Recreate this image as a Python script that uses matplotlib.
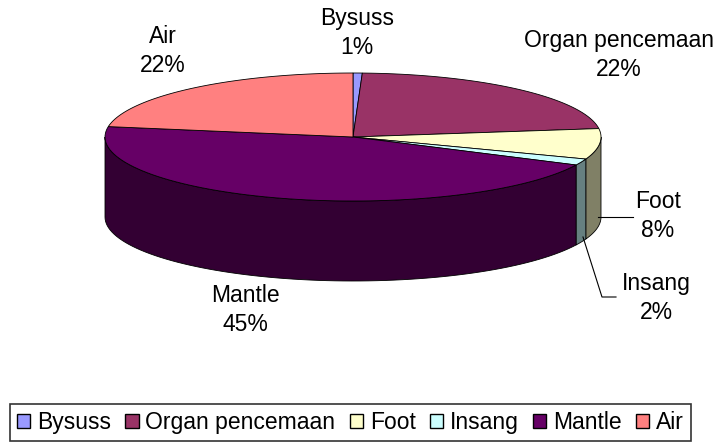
import numpy as np
import matplotlib.pyplot as plt
from matplotlib.patches import Polygon, Patch
from matplotlib.colors import to_rgb

plt.rcParams['font.family'] = ['Liberation Sans', 'DejaVu Sans']

labels = ['Bysuss', 'Organ pencemaan', 'Foot', 'Insang', 'Mantle', 'Air']
values = [0.6, 22.3, 7.7, 1.6, 45.4, 22.4]
colors = ['#9999FF', '#993366', '#FFFFCC', '#CCFFFF', '#660066', '#FF8080']

# label positions (pixel coords) for each slice
label_pos = [(357, 33), (619, 55), (658, 216), (656, 298), (245, 310), (163, 51)]

fig = plt.figure(figsize=(7.16, 4.47), dpi=100)
ax = fig.add_axes([0, 0, 1, 1])
ax.set_xlim(0, 716)
ax.set_ylim(447, 0)
ax.axis('off')

# ellipse geometry of the 3d pie
cx, cy = 353, 137
rx, ry = 248, 64
depth = 80

def arc(a1, a2, n=80):
    th = np.radians(np.linspace(a1, a2, n))
    return cx + rx * np.cos(th), cy - ry * np.sin(th)

total = sum(values)
start = 90.0
cum = 0.0
slices = []
for v in values:
    a_hi = start - cum / total * 360
    cum += v
    a_lo = start - cum / total * 360
    slices.append((a_lo, a_hi))

# side walls (front half only, angles in [-180, 0])
for (a_lo, a_hi), c in zip(slices, colors):
    lo, hi = max(a_lo, -180), min(a_hi, 0)
    if lo >= hi:
        continue
    x, y = arc(hi, lo)
    pts = list(zip(x, y)) + list(zip(x[::-1], y[::-1] + depth))
    side = tuple(0.5 * np.array(to_rgb(c)))
    ax.add_patch(Polygon(pts, closed=True, facecolor=side, edgecolor='black', linewidth=0.6))

# top faces
for (a_lo, a_hi), c in zip(slices, colors):
    x, y = arc(a_hi, a_lo)
    pts = [(cx, cy)] + list(zip(x, y))
    ax.add_patch(Polygon(pts, closed=True, facecolor=c, edgecolor='black', linewidth=0.6))

# labels
for lab, v, (lx, ly) in zip(labels, values, label_pos):
    ax.text(lx, ly, f'{lab}\n{round(v):.0f}%', ha='center', va='center',
            fontsize=16.5, linespacing=1.3)

# leader lines for Foot and Insang
ax.plot([598, 633], [217, 217], color='black', linewidth=0.8)
ax.plot([583, 602, 616], [237, 297, 297], color='black', linewidth=0.8)

handles = [Patch(facecolor=c, edgecolor='black', linewidth=1.0) for c in colors]
leg = fig.legend(handles, labels, ncol=6, loc='upper left',
                 bbox_to_anchor=(10 / 716, 1 - 404 / 447), fontsize=16.5,
                 frameon=True, fancybox=False, edgecolor='black',
                 handlelength=0.58, handleheight=0.58, handletextpad=0.3,
                 columnspacing=0.62, borderpad=0.3, borderaxespad=0)
leg.get_frame().set_linewidth(1.2)

plt.savefig('out.png', dpi=100)
